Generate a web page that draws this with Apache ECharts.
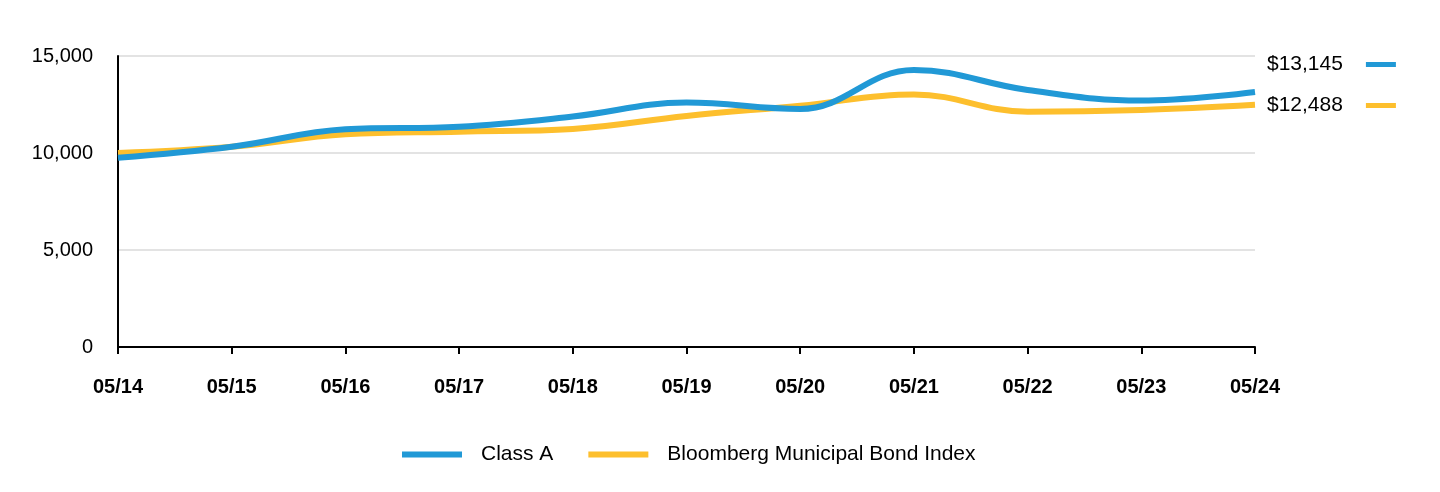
<!DOCTYPE html>
<html><head><meta charset="utf-8">
<script src="https://cdn.jsdelivr.net/npm/echarts@6/dist/echarts.min.js"></script>
<style>html,body{margin:0;padding:0;background:#fff}#c{width:1440px;height:492px}</style>
</head><body><div id="c"></div>
<script>
const categories = ['05/14','05/15','05/16','05/17','05/18','05/19','05/20','05/21','05/22','05/23','05/24'];
const classA = [9750, 10320, 11220, 11350, 11880, 12600, 12270, 14280, 13250, 12700, 13145];
const bloomberg = [10000, 10320, 10960, 11100, 11240, 11910, 12440, 13020, 12130, 12220, 12488];
const seriesNames = ['Class A', 'Bloomberg Municipal Bond Index'];
const colors = ['#2199d6', '#fdbf2d'];
const yTicks = [0, 5000, 10000, 15000];

const lastVals = {};
lastVals[seriesNames[0]] = classA[classA.length-1];
lastVals[seriesNames[1]] = bloomberg[bloomberg.length-1];

const font = 'Liberation Sans, Arial, sans-serif';
const chart = echarts.init(document.getElementById('c'));
chart.setOption({
  animation: false,
  color: colors,
  textStyle: {fontFamily: font},
  grid: {left: 118, right: 185, top: 56, bottom: 145, containLabel: false},
  legend: [{
    data: seriesNames,
    top: 439,
    left: 397,
    itemWidth: 60, itemHeight: 6, itemGap: 35,
    icon: 'rect',
    textStyle: {fontSize: 21, color: '#000', fontFamily: font, padding: [0,0,0,14]}
  }, {
    data: seriesNames,
    orient: 'vertical',
    left: 1262, top: 49,
    align: 'right',
    icon: 'rect',
    itemWidth: 30, itemHeight: 5, itemGap: 20,
    selectedMode: false,
    formatter: n => '$' + lastVals[n].toLocaleString('en-US'),
    textStyle: {fontSize: 21, color: '#000', fontFamily: font, padding: [0,18,0,0]}
  }],
  xAxis: {
    type: 'category', data: categories, boundaryGap: false,
    axisLine: {lineStyle: {color: '#000', width: 2}},
    axisTick: {show: true, alignWithLabel: true, length: 7, lineStyle: {color: '#000', width: 2}},
    axisLabel: {fontSize: 20, fontWeight: 'bold', color: '#000', margin: 30, fontFamily: font},
    splitLine: {show: false}
  },
  yAxis: {
    type: 'value', min: yTicks[0], max: yTicks[yTicks.length-1], interval: 5000,
    axisLine: {show: true, lineStyle: {color: '#000', width: 2}},
    axisTick: {show: false},
    axisLabel: {fontSize: 20, color: '#000', margin: 25, fontFamily: font,
      formatter: v => v.toLocaleString('en-US')},
    splitLine: {lineStyle: {color: '#e3e3e3', width: 2}}
  },
  series: [
    {name: seriesNames[0], type: 'line', data: classA, smooth: 0.4, symbol: 'none',
     lineStyle: {width: 6, color: colors[0]}, z: 3},
    {name: seriesNames[1], type: 'line', data: bloomberg, smooth: 0.4, symbol: 'none',
     lineStyle: {width: 6, color: colors[1]}, z: 2}
  ]
});
</script></body></html>
